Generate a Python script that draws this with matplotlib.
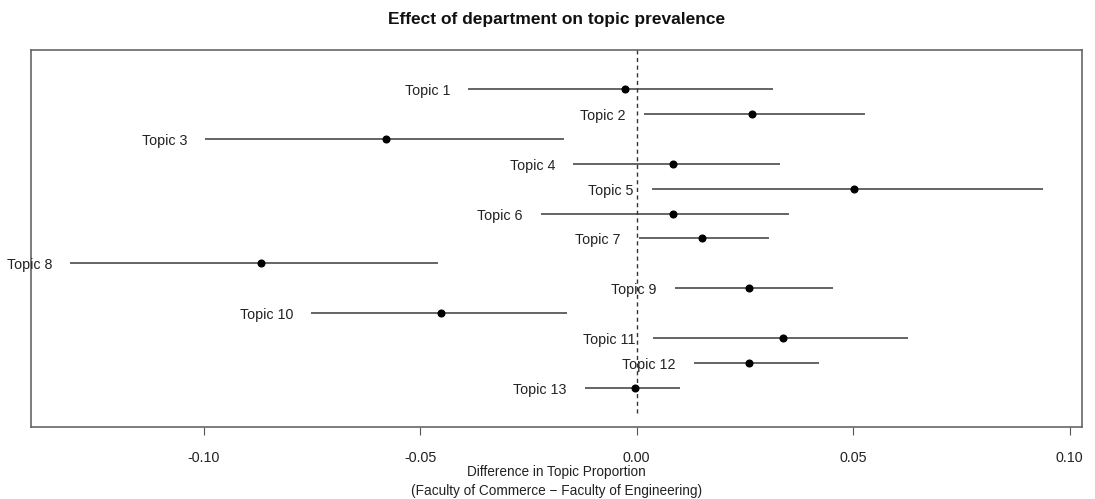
import matplotlib
matplotlib.use("Agg")
import matplotlib.pyplot as plt
import numpy as np

plt.rcParams['font.family'] = ['Liberation Sans', 'DejaVu Sans']

# point estimates and 95% intervals, Commerce minus Engineering
topics = ["Topic %d" % i for i in range(1, 14)]
estimate = [-0.0026, 0.0266, -0.0578, 0.0085, 0.0502, 0.0085, 0.0150,
            -0.0868, 0.0260, -0.0453, 0.0338, 0.0260, -0.0005]
ci_lower = [-0.0389, 0.0016, -0.0996, -0.0147, 0.0035, -0.0222, 0.0005,
            -0.1309, 0.0088, -0.0752, 0.0038, 0.0132, -0.0120]
ci_upper = [0.0314, 0.0528, -0.0168, 0.0330, 0.0938, 0.0351, 0.0306,
            -0.0459, 0.0453, -0.0161, 0.0627, 0.0421, 0.0099]
xticks = [-0.10, -0.05, 0.00, 0.05, 0.10]

fig = plt.figure(figsize=(10.95, 4.99), dpi=100)
ax = fig.add_axes([0.0283, 0.1443, 0.9596, 0.7555])

n = len(topics)
ypos = np.arange(n, 0, -1)

ax.plot([0, 0], [0, n + 2], ls=(0, (3, 2.5)), color='#333333', lw=1)

for y, lab, est, lo, hi in zip(ypos, topics, estimate, ci_lower, ci_upper):
    ax.plot([lo, hi], [y, y], color='#3a3a3a', lw=1.1, solid_capstyle='butt')
    ax.plot(est, y, 'o', color='black', ms=4.8)
    ax.annotate(lab, xy=(lo, y), xytext=(-18, -2), textcoords='offset pixels',
                ha='right', va='center', fontsize=10.3, color='#222222',
                annotation_clip=False)

lo_all, hi_all = min(ci_lower), max(ci_upper)
pad = 0.04 * (hi_all - lo_all)
ax.set_xlim(lo_all - pad, hi_all + pad)
ax.set_ylim(-0.04 * (n + 1), (n + 1) * 1.04)

ax.set_yticks([])
ax.set_xticks(xticks)
ax.set_xticklabels(["%.2f" % t for t in xticks])
ax.tick_params(axis='x', length=6, width=0.8, color='#555555',
               labelsize=10.3, labelcolor='#222222', pad=11)
for s in ax.spines.values():
    s.set_color('#666666')
    s.set_linewidth(1.2)

ax.set_xlabel("Difference in Topic Proportion\n(Faculty of Commerce \u2212 Faculty of Engineering)",
              fontsize=9.8, color='#222222', labelpad=0, linespacing=1.5)
fig.suptitle("Effect of department on topic prevalence", x=0.508, y=0.975,
             fontsize=12.5, fontweight='bold', color='#111111')

fig.savefig("out.png", dpi=100)
